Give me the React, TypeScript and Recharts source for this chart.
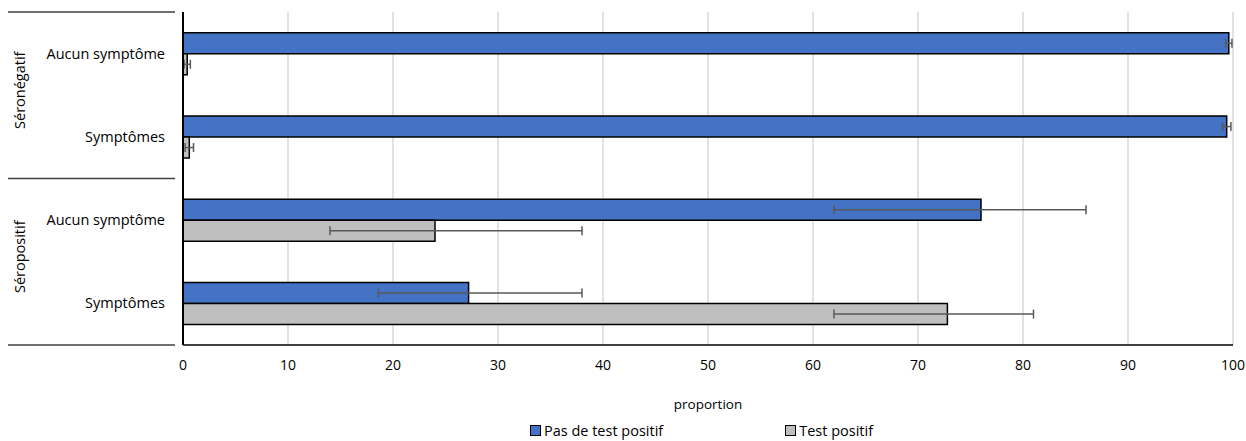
import React from "react";
import { BarChart, Bar, XAxis, YAxis, CartesianGrid, ErrorBar, Legend } from "recharts";

const categoryKeys = ["neg-none", "neg-sym", "pos-none", "pos-sym"];
const categoryLabels = ["Aucun symptôme", "Symptômes", "Aucun symptôme", "Symptômes"];
const groupLabels = ["Séronégatif", "Séropositif"];
const noPositiveTest = [99.6, 99.4, 76.0, 27.2];
const noPositiveLow = [99.3, 99.0, 62.0, 18.6];
const noPositiveHigh = [99.9, 99.8, 86.0, 38.0];
const positiveTest = [0.4, 0.6, 24.0, 72.8];
const positiveLow = [0.1, 0.2, 14.0, 62.0];
const positiveHigh = [0.7, 1.0, 38.0, 81.0];
const xTicks = [0, 10, 20, 30, 40, 50, 60, 70, 80, 90, 100];
const seriesNames = ["Pas de test positif", "Test positif"];

const data = categoryKeys.map((key, i) => ({
  key,
  neg: noPositiveTest[i],
  negErr: [noPositiveTest[i] - noPositiveLow[i], noPositiveHigh[i] - noPositiveTest[i]],
  pos: positiveTest[i],
  posErr: [positiveTest[i] - positiveLow[i], positiveHigh[i] - positiveTest[i]],
}));

const FONT = "'Open Sans', sans-serif";
const BLUE = "#4472C4";
const GRAY = "#BFBFBF";

const YTick = (props: any) => {
  const { x, y, payload } = props;
  const index = payload.index;
  const half = payload.offset || 41.6;
  const els: any[] = [
    <text key="t" x={x - 10} y={y} dy={5} textAnchor="end" fontSize={14.5} fontFamily={FONT} fill="#000">
      {categoryLabels[index]}
    </text>,
  ];
  if (index % 2 === 0) {
    const gi = index / 2;
    const cy = y + half - 5;
    els.push(
      <line key="l1" x1={0} x2={x} y1={y - half} y2={y - half} stroke="#404040" strokeWidth={1.5} />
    );
    els.push(
      <text
        key="g"
        x={12}
        y={cy}
        dy={5}
        textAnchor="middle"
        fontSize={14.5}
        fontFamily={FONT}
        fill="#000"
        transform={`rotate(-90, 12, ${cy})`}
      >
        {groupLabels[gi]}
      </text>
    );
    if (index === categoryKeys.length - 2) {
      els.push(
        <line key="l2" x1={0} x2={x} y1={y + 3 * half} y2={y + 3 * half} stroke="#404040" strokeWidth={1.5} />
      );
    }
  }
  return <g>{els}</g>;
};

const LegendContent = () => (
  <div
    style={{
      display: "flex",
      justifyContent: "center",
      alignItems: "flex-end",
      height: 26,
      gap: 122,
      fontFamily: FONT,
      fontSize: 14.5,
      color: "#000",
      paddingLeft: 175,
      paddingRight: 13,
      paddingBottom: 3,
      boxSizing: "border-box",
    }}
  >
    {seriesNames.map((n, i) => (
      <div key={n} style={{ display: "flex", alignItems: "center", lineHeight: "15px" }}>
        <span
          style={{
            display: "inline-block",
            width: 9,
            height: 9,
            background: i === 0 ? BLUE : GRAY,
            border: "1px solid #000",
            marginRight: 3,
          }}
        />
        {n}
      </div>
    ))}
  </div>
);

export default function App() {
  return (
    <div style={{ width: 1246, height: 441, paddingLeft: 8, paddingTop: 8, boxSizing: "border-box", overflow: "hidden" }}>
      <style>{"html,body{margin:0;padding:0;overflow:hidden} svg.recharts-surface{overflow:visible}"}</style>
      <BarChart
        width={1238}
        height={433}
        data={data}
        layout="vertical"
        margin={{ top: 4, right: 13, bottom: 0, left: 0 }}
        barCategoryGap="25%"
        barGap={0}
      >
        <CartesianGrid horizontal={false} stroke="#D9D9D9" strokeWidth={1.5} />
        <XAxis
          type="number"
          domain={[0, 100]}
          ticks={xTicks}
          tickLine={false}
          tickMargin={9}
          height={70}
          axisLine={{ stroke: "#000", strokeWidth: 1.5 }}
          tick={{ fontSize: 14, fontFamily: FONT, fill: "#000" }}
          label={{ value: "proportion", position: "insideBottom", offset: 6, fontSize: 13.5, fontFamily: FONT, fill: "#000" }}
        />
        <YAxis
          type="category"
          dataKey="key"
          width={175}
          tickLine={false}
          axisLine={{ stroke: "#000", strokeWidth: 2 }}
          tick={<YTick />}
          interval={0}
        />
        <Legend verticalAlign="bottom" height={26} content={<LegendContent />} />
        <Bar dataKey="neg" name={seriesNames[0]} fill={BLUE} stroke="#000" strokeWidth={1.5} isAnimationActive={false}>
          <ErrorBar dataKey="negErr" direction="x" width={4.5} stroke="#595959" strokeWidth={1.5} />
        </Bar>
        <Bar dataKey="pos" name={seriesNames[1]} fill={GRAY} stroke="#000" strokeWidth={1.5} isAnimationActive={false}>
          <ErrorBar dataKey="posErr" direction="x" width={4.5} stroke="#595959" strokeWidth={1.5} />
        </Bar>
      </BarChart>
    </div>
  );
}
